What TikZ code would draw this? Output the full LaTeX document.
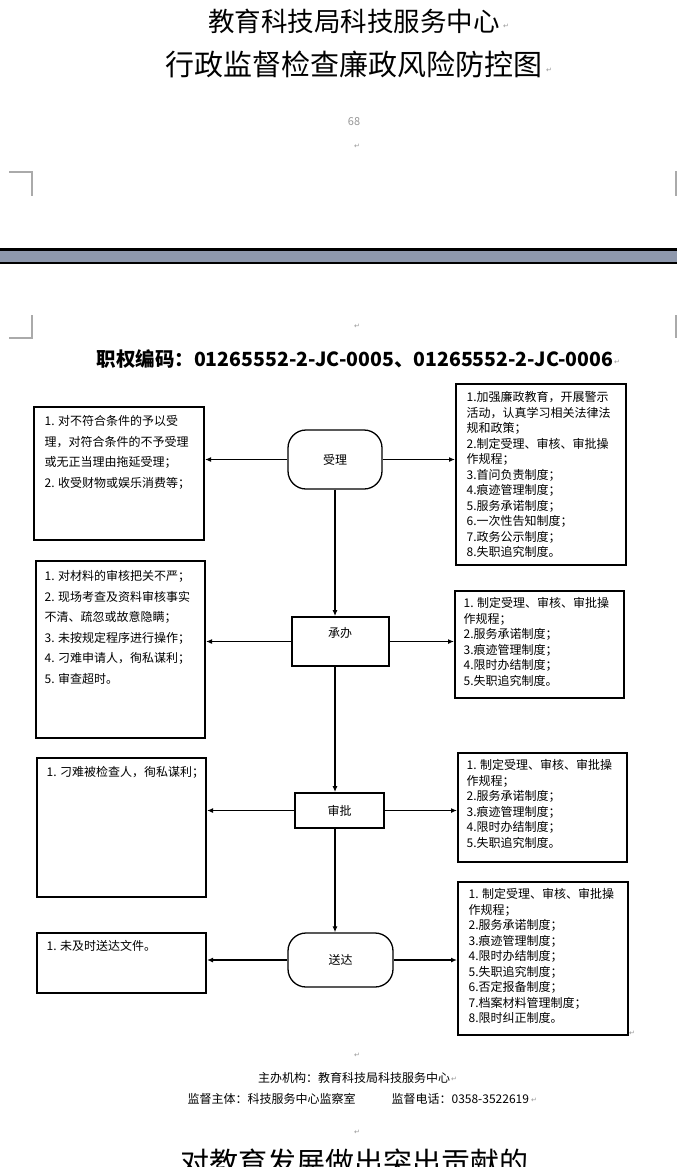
\documentclass[tikz,border=0pt]{standalone}
\usepackage{fontspec}
\setmainfont{Noto Sans CJK SC}
\newfontfamily\symfont{DejaVu Sans}
\usetikzlibrary{arrows.meta}
\definecolor{bar_gray}{RGB}{142,152,172}
\definecolor{crop_gray}{RGB}{170,170,170}
\definecolor{ret_gray}{RGB}{150,150,150}
\newcommand\retmark{{\symfont\fontsize{7}{7}\selectfont\color{ret_gray}↵}}

\begin{document}
\begin{tikzpicture}[x=1pt,y=-1pt,>={Latex[length=6pt,width=5pt]},line width=1.2pt]
    \tikzstyle{riskbox}=[draw=black, line width=2pt, rectangle, inner sep=0pt]
    \tikzstyle{lefttext}=[anchor=north west, inner sep=0pt, align=left, font=\fontsize{12}{20.5}\selectfont]
    \tikzstyle{righttext}=[anchor=north west, inner sep=0pt, align=left, font=\fontsize{12}{15.5}\selectfont]
    \tikzstyle{term}=[draw=black, line width=1.3pt, rounded corners=18pt, inner sep=0pt, font=\fontsize{12}{14}\selectfont]
    \tikzstyle{proc}=[draw=black, line width=1.8pt, rectangle, inner sep=0pt, font=\fontsize{12}{14}\selectfont]
    \tikzstyle{conn}=[->, line width=1.3pt]
    \tikzstyle{cropline}=[draw=crop_gray, line width=1.2pt]
    \tikzstyle{ret}=[inner sep=0pt]

    \useasboundingbox (0,0) rectangle (677,1167);

    % page head
    \node (title1) at (354,21)  {\fontsize{26.5}{30}\selectfont 教育科技局科技服务中心};
    \node (title2) at (354,64)  {\fontsize{29}{33}\selectfont 行政监督检查廉政风险防控图};
    \node[ret] (ret1) at (506,26) {\retmark};
    \node[ret] (ret2) at (549,70) {\retmark};
    \node (pageno) at (354,122) {\fontsize{11}{12}\selectfont\color{ret_gray}68};
    \node[ret] (ret3) at (357,146) {\retmark};
    \draw[cropline] (9,172) -- (32,172) -- (32,196);
    \draw[cropline] (677,172) -- (676,172) -- (676,196);
    \fill[black]    (0,248) rectangle (677,251);
    \fill[bar_gray] (0,251) rectangle (677,262);
    \fill[black]    (0,262) rectangle (677,263.5);
    \draw[cropline] (32,315) -- (32,338) -- (9,338);
    \draw[cropline] (676,315) -- (676,338);
    \node[ret] (ret4) at (357,326) {\retmark};
    \node (code) at (355,359) {\fontsize{19.5}{22}\selectfont\bfseries 职权编码：01265552-2-JC-0005、01265552-2-JC-0006};
    \node[ret] (ret5) at (617,362) {\retmark};

    % process steps
    \node[term, minimum width=94pt, minimum height=59pt] (shouli) at (335,459.5) {受理};
    \node[proc, minimum width=97pt, minimum height=49pt] (chengban) at (340.5,641.5) {};
    \node (chengban-t) at (340,633) {\fontsize{12}{14}\selectfont 承办};
    \node[proc, minimum width=89pt, minimum height=35pt] (shenpi) at (339.5,810.5) {审批};
    \node[term, minimum width=105pt, minimum height=54pt] (songda) at (340.5,960) {送达};

    % risks (left)
    \node[riskbox, minimum width=170pt, minimum height=133pt] (L1) at (119,473.5) {};
    \node[lefttext] (L1-t) at ([xshift=11pt,yshift=-9pt]L1.north west)
      {1. 对不符合条件的予以受\\理，对符合条件的不予受理\\或无正当理由拖延受理；\\2. 收受财物或娱乐消费等；};
    \node[riskbox, minimum width=169pt, minimum height=177pt] (L2) at (120.5,649.5) {};
    \node[lefttext] (L2-t) at ([xshift=9pt,yshift=-10pt]L2.north west)
      {1. 对材料的审核把关不严；\\2. 现场考查及资料审核事实\\不清、疏忽或故意隐瞒；\\3. 未按规定程序进行操作；\\4. 刁难申请人，徇私谋利；\\5. 审查超时。};
    \node[riskbox, minimum width=169pt, minimum height=139pt] (L3) at (121.5,827.5) {};
    \node[lefttext] (L3-t) at ([xshift=10pt,yshift=-9pt]L3.north west)
      {1. 刁难被检查人，徇私谋利；};
    \node[riskbox, minimum width=169pt, minimum height=60pt] (L4) at (121.5,963) {};
    \node[lefttext] (L4-t) at ([xshift=10pt,yshift=-8pt]L4.north west)
      {1. 未及时送达文件。};

    % measures (right)
    \node[riskbox, minimum width=170pt, minimum height=181pt] (R1) at (541,474.5) {};
    \node[righttext] (R1-t) at ([xshift=11pt,yshift=-8pt]R1.north west)
      {1.加强廉政教育，开展警示\\活动，认真学习相关法律法\\规和政策；\\2.制定受理、审核、审批操\\作规程；\\3.首问负责制度；\\4.痕迹管理制度；\\5.服务承诺制度；\\6.一次性告知制度；\\7.政务公示制度；\\8.失职追究制度。};
    \node[riskbox, minimum width=169pt, minimum height=107pt] (R2) at (539.5,644.5) {};
    \node[righttext] (R2-t) at ([xshift=9pt,yshift=-7pt]R2.north west)
      {1. 制定受理、审核、审批操\\作规程；\\2.服务承诺制度；\\3.痕迹管理制度；\\4.限时办结制度；\\5.失职追究制度。};
    \node[riskbox, minimum width=169pt, minimum height=109pt] (R3) at (542.5,807.5) {};
    \node[righttext] (R3-t) at ([xshift=9pt,yshift=-7pt]R3.north west)
      {1. 制定受理、审核、审批操\\作规程；\\2.服务承诺制度；\\3.痕迹管理制度；\\4.限时办结制度；\\5.失职追究制度。};
    \node[riskbox, minimum width=170pt, minimum height=153pt] (R4) at (543,958.5) {};
    \node[righttext] (R4-t) at ([xshift=11pt,yshift=-7pt]R4.north west)
      {1. 制定受理、审核、审批操\\作规程；\\2.服务承诺制度；\\3.痕迹管理制度；\\4.限时办结制度；\\5.失职追究制度；\\6.否定报备制度；\\7.档案材料管理制度；\\8.限时纠正制度。};
    \node[ret] (ret6) at (632,1033) {\retmark};

    \path
     (shouli.west)   edge[conn] (shouli.west -| L1.east)
     (shouli.east)   edge[conn] (shouli.east -| R1.west)
     (shouli.south)  edge[conn] (shouli.south |- chengban.north)
     (chengban.west) edge[conn] (chengban.west -| L2.east)
     (chengban.east) edge[conn] (chengban.east -| R2.west)
     (shouli.south |- chengban.south) edge[conn] (shouli.south |- shenpi.north)
     (shenpi.west)   edge[conn] (shenpi.west -| L3.east)
     (shenpi.east)   edge[conn] (shenpi.east -| R3.west)
     (shouli.south |- shenpi.south) edge[conn] (shouli.south |- songda.north)
     (songda.west)   edge[conn] (songda.west -| L4.east)
     (songda.east)   edge[conn] (songda.east -| R4.west)
     ;

    % page foot
    \node[ret] (ret7) at (357,1055) {\retmark};
    \node (host) at (354,1078) {\fontsize{12}{14}\selectfont 主办机构：教育科技局科技服务中心};
    \node[ret] (ret8) at (454,1079) {\retmark};
    \node[anchor=west, inner sep=0pt] (super) at (187,1099) {\fontsize{12}{14}\selectfont 监督主体：科技服务中心监察室};
    \node[anchor=west, inner sep=0pt] (phone) at (391,1099) {\fontsize{12}{14}\selectfont 监督电话：0358-3522619};
    \node[ret] (ret9) at (534,1100) {\retmark};
    \node[ret] (ret10) at (357,1132) {\retmark};
    \node (slogan) at (354,1162) {\fontsize{29}{33}\selectfont 对教育发展做出突出贡献的};
\end{tikzpicture}
\end{document}
